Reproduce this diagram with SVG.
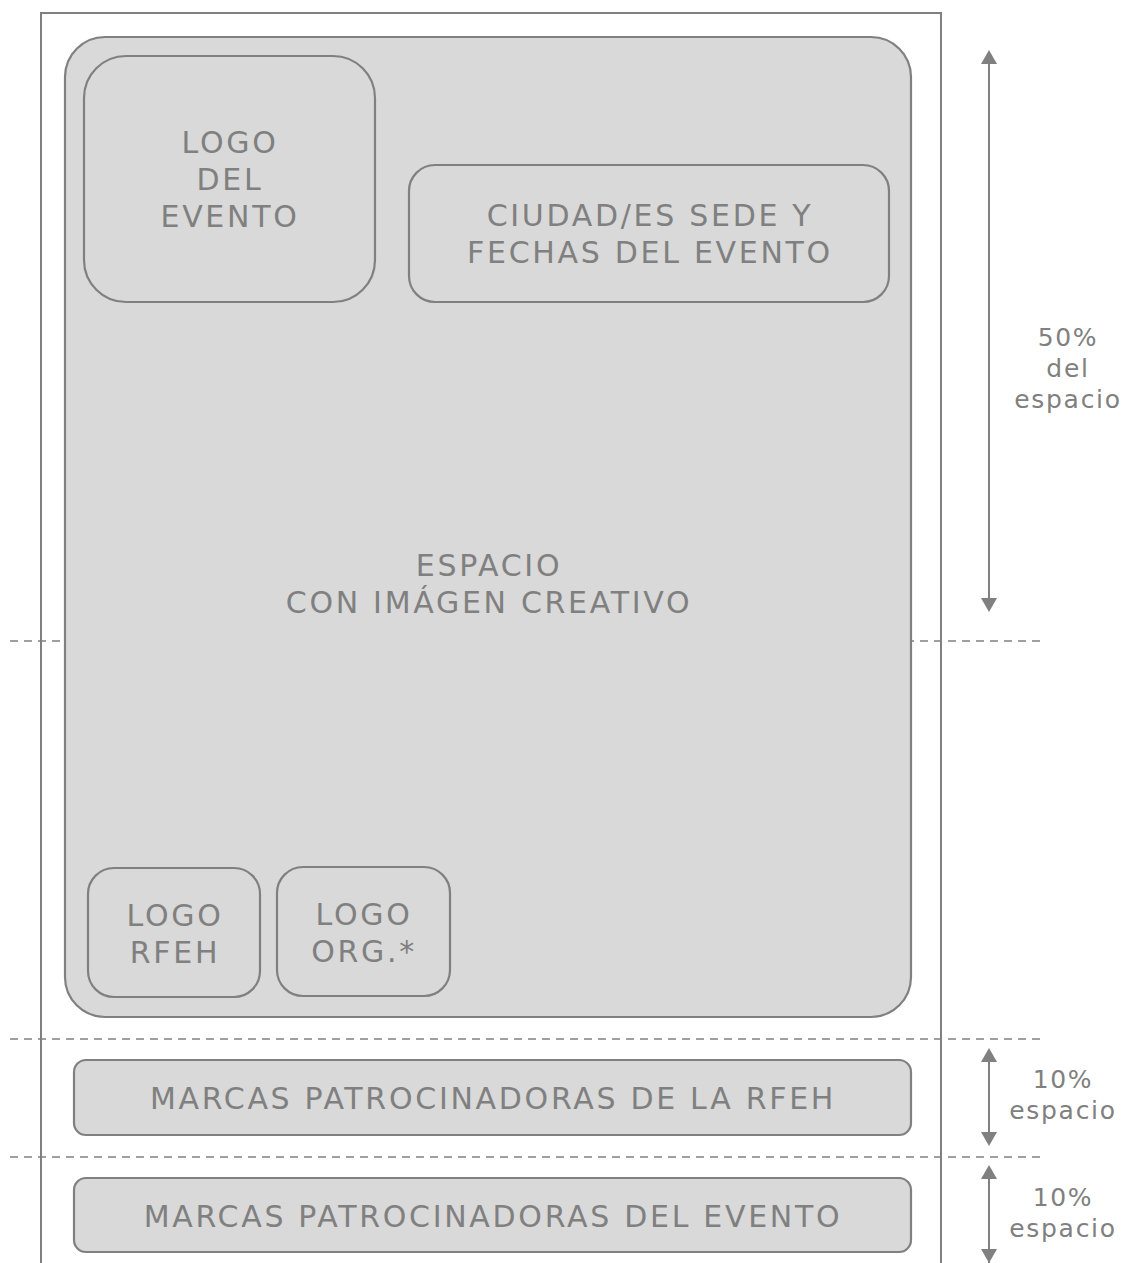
<svg xmlns="http://www.w3.org/2000/svg" width="1122" height="1263" viewBox="0 0 1122 1263">
<defs>
<style>
.box{fill:#d9d9d9;stroke:#808080;stroke-width:2.2}
.t{font-family:"DejaVu Sans",Verdana,sans-serif;fill:#808080;text-anchor:middle}
.l{font-size:30px;letter-spacing:2.7px}
.s{font-size:25px;letter-spacing:1.7px}
.dash{stroke:#808080;stroke-width:1.5;stroke-dasharray:8 6;fill:none}
</style>
</defs>
<rect width="1122" height="1263" fill="#ffffff"/>
<g id="guides">
<line class="dash" x1="10" y1="641" x2="1040" y2="641"/>
<line class="dash" x1="10" y1="1039" x2="1040" y2="1039"/>
<line class="dash" x1="10" y1="1157" x2="1040" y2="1157"/>
</g>
<g id="page"><rect x="41" y="13" width="900" height="1270" fill="none" stroke="#808080" stroke-width="2"/></g>
<g id="espacio">
<rect class="box" x="65" y="37" width="846" height="980" rx="40"/>
<text class="t l" x="489" y="576">ESPACIO</text>
<text class="t l" x="489" y="613">CON IMÁGEN CREATIVO</text>
</g>
<g id="logo-evento">
<rect class="box" x="84" y="56" width="291" height="246" rx="42"/>
<text class="t l" x="230" y="153">LOGO</text>
<text class="t l" x="230" y="190">DEL</text>
<text class="t l" x="230" y="227">EVENTO</text>
</g>
<g id="ciudad">
<rect class="box" x="409" y="165" width="480" height="137" rx="26"/>
<text class="t l" x="650" y="226">CIUDAD/ES SEDE Y</text>
<text class="t l" x="650" y="263">FECHAS DEL EVENTO</text>
</g>
<g id="logo-rfeh">
<rect class="box" x="88" y="868" width="172" height="129" rx="26"/>
<text class="t l" x="175" y="926">LOGO</text>
<text class="t l" x="175" y="963">RFEH</text>
</g>
<g id="logo-org">
<rect class="box" x="277" y="867" width="173" height="129" rx="26"/>
<text class="t l" x="364" y="925">LOGO</text>
<text class="t l" x="364" y="962">ORG.*</text>
</g>
<g id="marcas-rfeh">
<rect class="box" x="74" y="1060" width="837" height="75" rx="12"/>
<text class="t l" x="493" y="1109">MARCAS PATROCINADORAS DE LA RFEH</text>
</g>
<g id="marcas-evento">
<rect class="box" x="74" y="1178" width="837" height="74" rx="12"/>
<text class="t l" x="493" y="1227">MARCAS PATROCINADORAS DEL EVENTO</text>
</g>
<g id="connectors">
<line x1="989" y1="52" x2="989" y2="610" stroke="#808080" stroke-width="2"/>
<path d="M981,64 L989,50 L997,64 Z" fill="#808080"/>
<path d="M981,598 L989,612 L997,598 Z" fill="#808080"/>
<line x1="989" y1="1050" x2="989" y2="1144" stroke="#808080" stroke-width="2"/>
<path d="M981,1062 L989,1048 L997,1062 Z" fill="#808080"/>
<path d="M981,1132 L989,1146 L997,1132 Z" fill="#808080"/>
<line x1="989" y1="1167" x2="989" y2="1263" stroke="#808080" stroke-width="2"/>
<path d="M981,1179 L989,1165 L997,1179 Z" fill="#808080"/>
<path d="M981,1249 L989,1263 L997,1249 Z" fill="#808080"/>
</g>
<g id="labels">
<text class="t s" x="1068" y="346">50%</text>
<text class="t s" x="1068" y="377">del</text>
<text class="t s" x="1068" y="408">espacio</text>
<text class="t s" x="1063" y="1088">10%</text>
<text class="t s" x="1063" y="1119">espacio</text>
<text class="t s" x="1063" y="1206">10%</text>
<text class="t s" x="1063" y="1237">espacio</text>
</g>
</svg>
